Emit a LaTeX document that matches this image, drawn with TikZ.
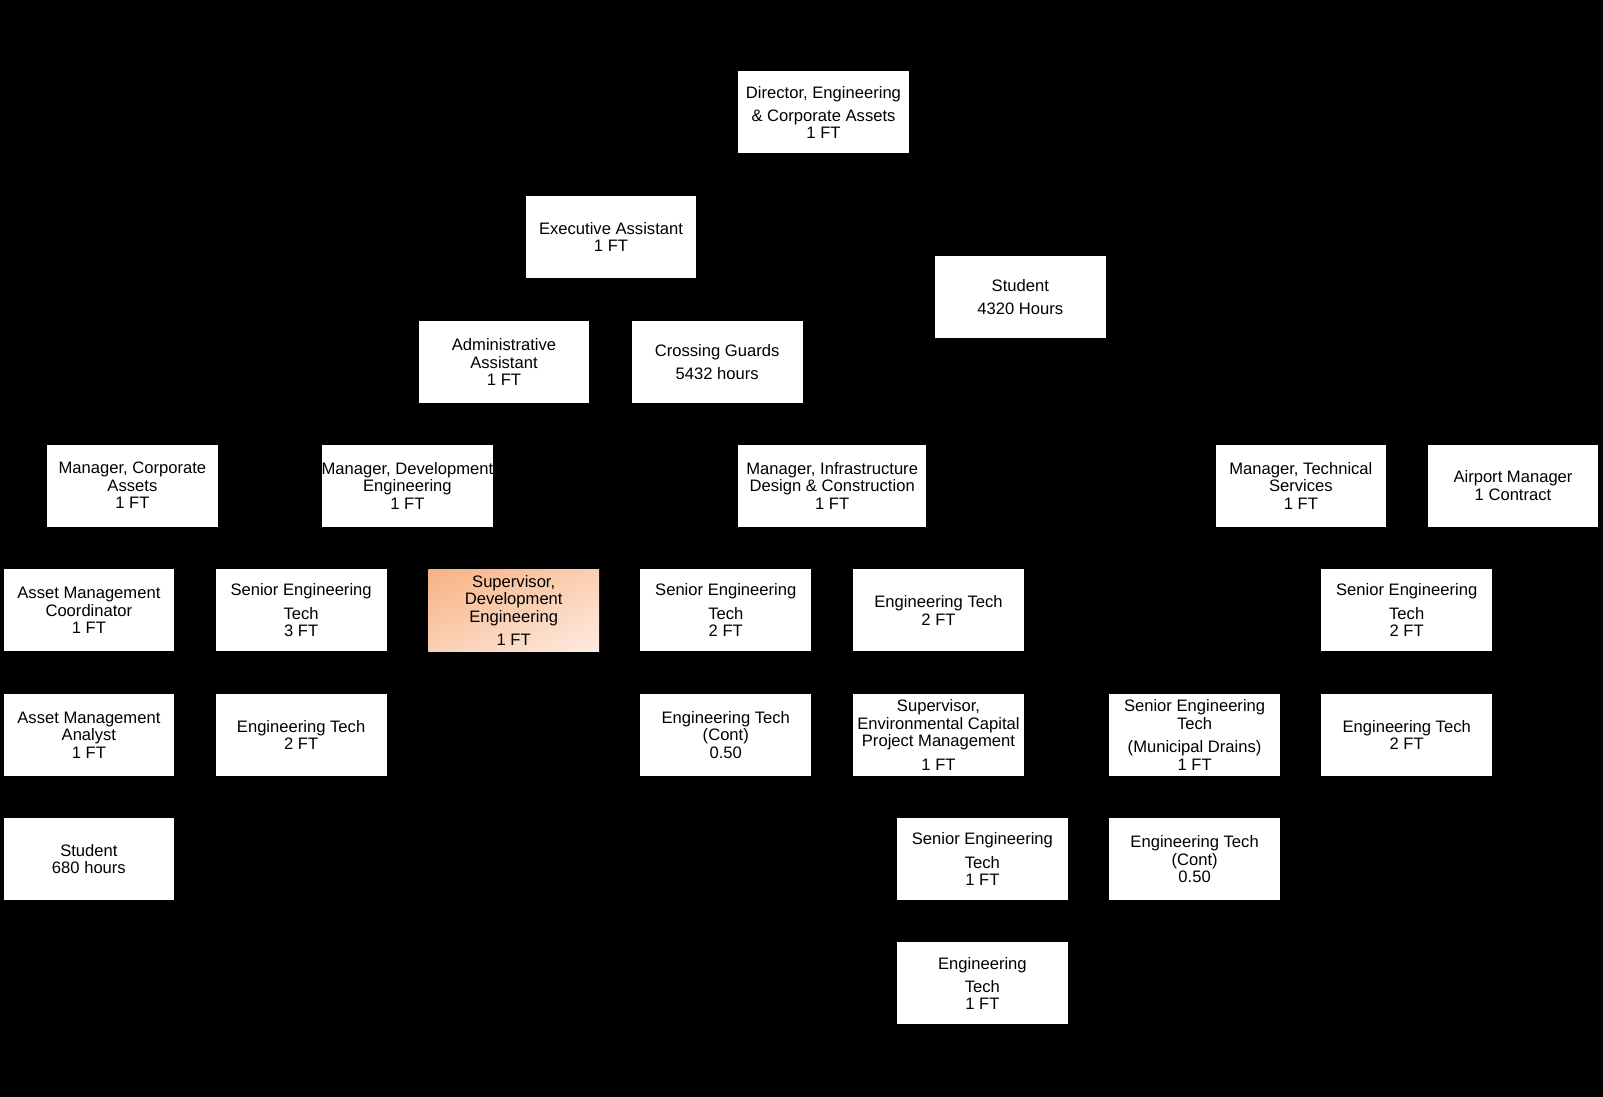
\documentclass[tikz,border=0pt]{standalone}
\usepackage{fontspec}
\setmainfont{Liberation Sans}
\usepackage{tikz}
\usetikzlibrary{positioning,calc,shadings}
\usepackage{xcolor}
\definecolor{supdark}{HTML}{F7B183}
\definecolor{supmid}{HTML}{FAD0B4}
\definecolor{suplight}{HTML}{FDEBE0}

\tikzset{
  post/.style={fill=white, draw=none, align=center, inner sep=0pt,
    minimum width=85.4pt, minimum height=41pt,
    font=\fontsize{8.3}{8.7}\selectfont},
  widepost/.style={post, minimum width=94pt},
  hotpost/.style={post, fill=none, upper left=supdark, upper right=supmid,
    lower left=supmid, lower right=suplight}
}

\begin{document}
\begin{tikzpicture}[x=0.5pt, y=-0.5pt]
  \fill[black] (0,0) rectangle (1603,1097);
  \useasboundingbox (0,0) rectangle (1603,1097);
  % top of the chart
  \node[post] (dir) at (823.5,112.5) {Director, Engineering\\[3pt]\& Corporate Assets\\1 FT};
  \node[post] (exec) at (611,237) {Executive Assistant\\1 FT};
  \node[post] (stud) at (1020.3,297) {Student\\[3pt]4320 Hours};
  \node[post] (admin) at (504,362) {Administrative\\Assistant\\1 FT};
  \node[post] (guards) at (717.1,362) {Crossing Guards\\[3pt]5432 hours};
  % managers
  \node[post] (mgrcorp) at (132.4,485.6) {Manager, Corporate\\Assets\\1 FT};
  \node[post] (mgrdev) at (407.4,485.6) {Manager, Development\\Engineering\\1 FT};
  \node[widepost] (mgrinfra) at (832.2,485.6) {Manager, Infrastructure\\Design \& Construction\\1 FT};
  \node[post] (mgrtech) at (1300.9,485.6) {Manager, Technical\\Services\\1 FT};
  \node[post] (airport) at (1513,485.6) {Airport Manager\\1 Contract};
  % second row
  \node[post] (amcoord) at (88.9,610.3) {Asset Management\\Coordinator\\1 FT};
  \node[post] (devsr) at (301.1,610.3) {Senior Engineering\\[3pt]Tech\\3 FT};
  \node[hotpost] (devsup) at (513.7,610.3) {Supervisor,\\Development\\Engineering\\[3pt]1 FT};
  \node[post] (infsr) at (725.8,610.3) {Senior Engineering\\[3pt]Tech\\2 FT};
  \node[post] (inftech) at (938.5,610.3) {Engineering Tech\\2 FT};
  \node[post] (techsr) at (1406.7,610.3) {Senior Engineering\\[3pt]Tech\\2 FT};
  % third row
  \node[post] (amanalyst) at (88.9,735) {Asset Management\\Analyst\\1 FT};
  \node[post] (devtech) at (301.1,735) {Engineering Tech\\2 FT};
  \node[post] (infcont) at (725.8,735) {Engineering Tech\\(Cont)\\0.50};
  \node[post] (envsup) at (938.5,735) {Supervisor,\\Environmental Capital\\Project Management\\[3pt]1 FT};
  \node[post] (drainsr) at (1194.6,735) {Senior Engineering\\Tech\\[3pt](Municipal Drains)\\1 FT};
  \node[post] (techtech) at (1406.7,735) {Engineering Tech\\2 FT};
  % fourth and fifth rows
  \node[post] (amstud) at (88.9,859.2) {Student\\680 hours};
  \node[post] (envsr) at (982.4,859.2) {Senior Engineering\\[3pt]Tech\\1 FT};
  \node[post] (draincont) at (1194.6,859.2) {Engineering Tech\\(Cont)\\0.50};
  \node[post] (envtech) at (982.4,983.4) {Engineering\\[3pt]Tech\\1 FT};
\end{tikzpicture}
\end{document}
